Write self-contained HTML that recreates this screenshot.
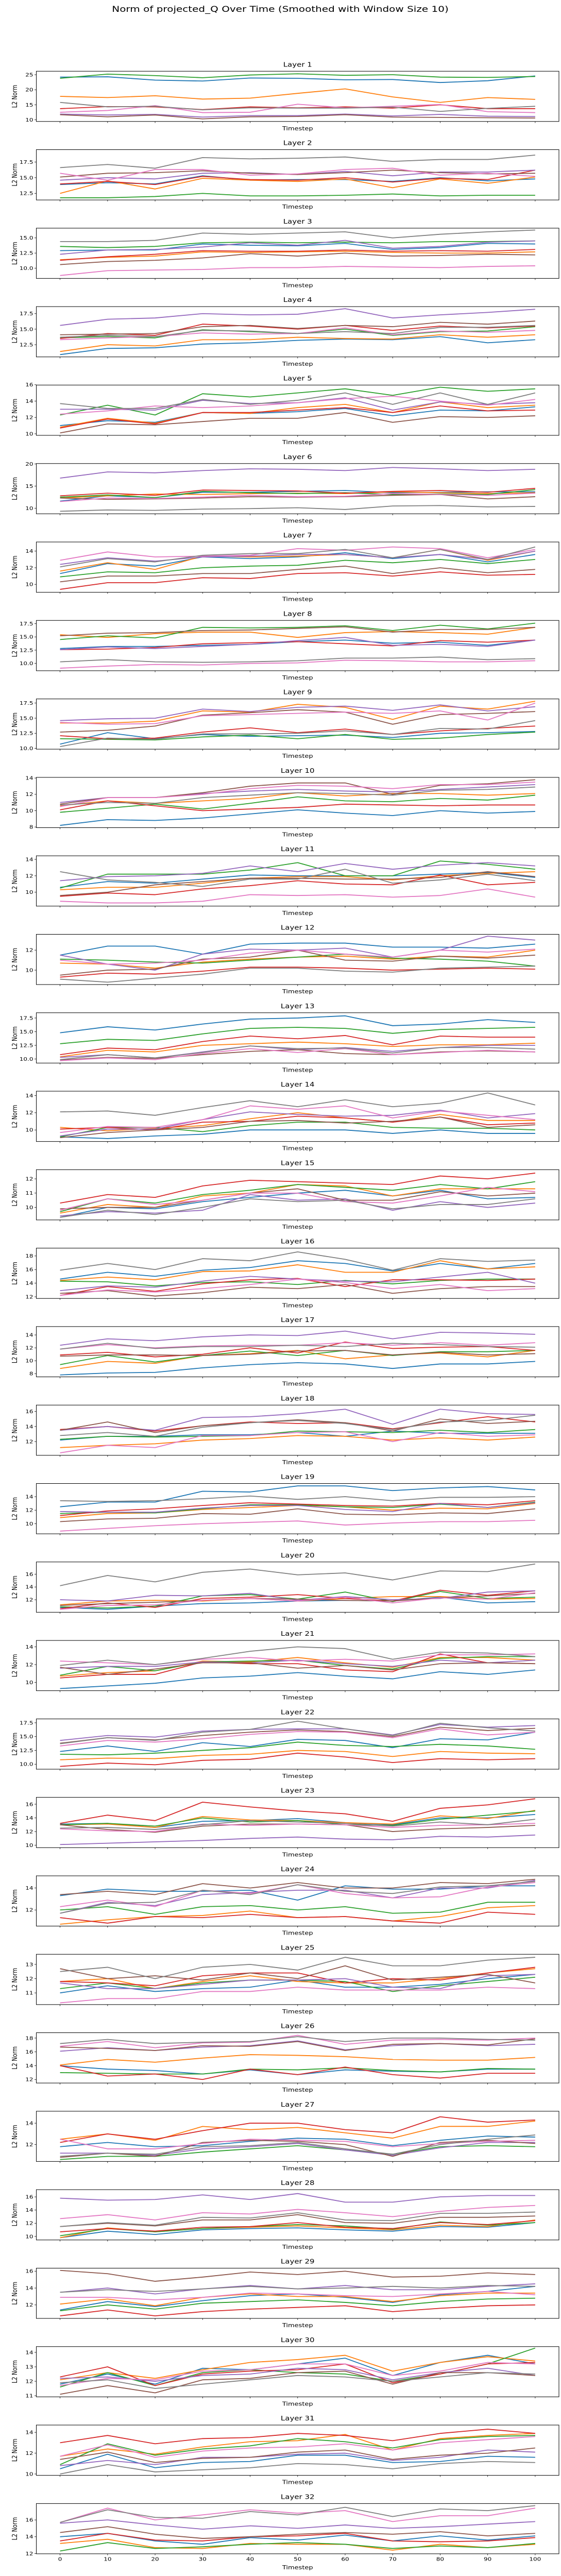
<!DOCTYPE html>
<html><head><meta charset="utf-8"><title>Norm of projected_Q Over Time</title>
<style>
html,body{margin:0;padding:0;background:#fff;overflow:hidden;width:100%;height:100%;}
svg{display:block;position:absolute;left:0;top:0;width:100vw;height:100vh;font-family:"DejaVu Sans","Liberation Sans",sans-serif;}
</style></head>
<body>
<svg id="fig" viewBox="0 0 1089 6149" preserveAspectRatio="none" xmlns="http://www.w3.org/2000/svg">
<rect width="1089" height="6149" fill="#fff"/>
<text x="544" y="28" font-size="20" text-anchor="middle">Norm of projected_Q Over Time (Smoothed with Window Size 10)</text>
</svg>
<script>
const timesteps=[0,10,20,30,40,50,60,70,80,90,100];
const xTickLabels=["0","10","20","30","40","50","60","70","80","90","100"];
const seriesColors=["#1f77b4","#ff7f0e","#2ca02c","#d62728","#9467bd","#8c564b","#e377c2","#7f7f7f"];
const yDomains=[[9.44,26.16],[11.45,19.46],[8.32,16.61],[10.54,18.63],[9.81,15.96],[8.73,20.1],[9.05,15.1],[8.62,18.1],[9.87,18.19],[7.92,14.08],[8.31,14.43],[8.56,13.58],[9.27,18.46],[8.66,14.5],[9.12,12.64],[11.76,19.15],[7.5,15.29],[10.17,16.85],[8.5,15.95],[10.04,17.91],[9.06,14.72],[9.1,18.2],[9.65,17.0],[10.53,15.11],[10.18,13.71],[11.49,18.77],[10.42,15.12],[9.47,17.09],[10.4,16.36],[10.92,14.4],[9.87,14.7],[11.97,17.95]];
const yTicks=[["10","15","20","25"],["12.5","15.0","17.5"],["10.0","12.5","15.0"],["12.5","15.0","17.5"],["10","12","14","16"],["10","15","20"],["10","12","14"],["10.0","12.5","15.0","17.5"],["10.0","12.5","15.0","17.5"],["8","10","12","14"],["10","12","14"],["10","12"],["10.0","12.5","15.0","17.5"],["10","12","14"],["10","11","12"],["12","14","16","18"],["8","10","12","14"],["12","14","16"],["10","12","14"],["12","14","16"],["10","12","14"],["10.0","12.5","15.0","17.5"],["10","12","14","16"],["12","14"],["11","12","13"],["12","14","16","18"],["12","14"],["10","12","14","16"],["12","14","16"],["11","12","13","14"],["10","12","14"],["12","14","16"]];
const L1=[[24.2,24.3,23.2,22.9,23.9,23.8,23.3,23.4,22.4,23.0,24.6],[17.8,17.4,18.0,16.9,17.2,18.8,20.3,17.6,15.8,17.4,16.8],[23.8,25.2,24.7,24.0,24.9,25.3,24.8,25.0,24.2,24.1,24.4],[13.7,14.4,14.3,13.4,14.3,14.0,14.3,13.9,15.0,13.7,13.7],[11.9,11.6,11.8,10.9,11.4,11.4,11.9,11.3,11.8,11.2,11.1],[11.7,11.0,11.6,10.3,11.0,11.1,11.7,10.9,10.8,10.7,10.6],[12.5,13.1,14.7,12.4,12.5,15.2,14.0,14.5,15.1,12.7,12.4],[15.8,14.3,14.5,13.3,14.0,13.9,13.9,14.2,12.8,13.8,14.5]];
const L2=[[13.9,14.2,14.0,15.3,14.6,14.7,14.7,14.4,15.0,14.5,14.8],[12.5,14.5,13.2,14.9,14.6,14.4,14.8,13.4,14.8,14.1,15.1],[11.8,11.8,12.0,12.5,12.1,12.1,12.2,12.4,12.1,12.2,12.2],[14.0,14.4,13.9,15.2,14.7,14.6,15.0,14.3,14.9,14.7,16.2],[14.6,15.0,14.8,15.7,15.8,15.5,16.0,15.3,15.9,15.9,16.2],[15.1,15.7,15.8,16.1,15.7,15.5,15.8,16.2,15.8,15.6,15.7],[15.7,14.6,16.3,16.3,15.4,15.6,16.3,16.5,15.4,15.7,15.2],[16.6,17.1,16.5,18.2,18.0,18.1,18.3,17.6,17.9,17.9,18.6]];
const L3=[[12.9,13.0,13.0,14.0,13.8,13.7,14.1,13.1,13.4,14.1,14.0],[11.4,11.8,12.0,12.7,12.6,12.7,12.8,12.6,12.5,12.5,12.7],[13.6,13.4,13.6,14.2,14.3,14.2,14.3,14.2,14.4,14.4,14.5],[11.3,11.9,12.3,12.9,12.8,12.8,13.0,12.8,12.9,12.8,13.1],[12.3,13.0,13.1,13.5,14.2,13.8,14.6,13.3,13.6,14.3,14.5],[10.6,11.1,11.3,11.7,12.4,12.0,12.5,12.0,12.1,12.3,12.2],[8.8,9.6,9.7,9.8,10.1,10.1,10.3,10.2,10.1,10.3,10.4],[14.4,14.4,14.6,15.8,15.6,15.8,16.0,15.0,15.6,16.0,16.3]];
const L4=[[10.9,11.9,12.0,12.6,12.8,13.2,13.4,13.3,13.8,12.8,13.3],[11.4,12.5,12.3,13.3,13.3,13.7,13.5,13.4,14.1,13.7,14.1],[13.6,13.8,13.6,14.9,14.6,14.3,15.0,14.0,14.6,14.7,15.4],[13.5,14.3,14.0,15.8,15.5,15.0,15.6,14.8,15.5,15.2,15.5],[15.6,16.6,16.8,17.5,17.3,17.4,18.3,16.8,17.3,17.7,18.2],[14.1,14.2,14.3,15.4,15.6,15.1,15.6,15.4,16.1,15.8,16.3],[13.3,13.6,13.8,14.4,14.2,14.3,15.2,14.1,14.7,14.5,14.8],[13.7,14.0,13.8,14.8,14.7,14.3,14.6,14.3,15.3,15.3,15.6]];
const L5=[[11.0,11.6,11.4,12.6,12.5,12.7,13.1,12.2,12.9,12.8,13.3],[10.8,11.9,11.3,12.6,12.5,13.2,13.6,12.6,13.9,13.2,13.5],[12.3,13.5,12.3,14.9,14.5,15.0,15.5,14.7,15.7,15.2,15.5],[10.7,11.8,11.2,12.6,12.6,12.9,13.2,12.6,13.4,12.8,12.9],[13.0,13.0,12.9,14.1,13.7,13.8,14.4,12.9,13.9,13.6,13.8],[10.1,11.2,11.1,11.5,11.9,11.9,12.6,11.4,12.1,12.0,12.2],[12.4,12.8,13.4,13.2,13.4,13.8,14.3,14.6,14.0,13.5,14.2],[13.7,13.1,13.1,14.2,13.6,14.1,15.0,13.6,15.0,13.6,15.0]];
const L6=[[11.6,12.8,12.4,13.6,13.6,13.8,14.0,13.5,13.6,13.7,13.7],[12.3,12.8,13.2,13.1,13.3,13.4,13.3,13.7,13.5,13.3,13.5],[12.5,13.0,12.4,13.8,13.5,13.3,13.5,13.1,13.2,13.1,14.2],[12.8,13.4,12.9,14.1,14.0,13.9,13.4,13.8,14.0,13.6,14.5],[16.8,18.2,18.0,18.5,18.9,18.8,18.5,19.2,18.9,18.5,18.8],[12.3,12.0,12.1,12.3,12.6,12.5,12.6,12.9,13.1,12.1,12.6],[11.5,12.3,12.2,12.5,12.9,12.6,12.7,13.3,13.1,12.9,13.4],[9.3,9.6,9.5,9.8,9.9,10.1,9.7,10.5,10.6,10.3,10.4]];
const L7=[[11.3,12.5,12.2,13.3,13.1,13.3,13.8,13.1,13.6,12.7,13.6],[11.6,12.6,11.8,13.4,13.3,13.4,13.6,13.2,14.2,12.9,14.0],[10.9,11.5,11.4,12.0,12.2,12.3,12.9,12.6,13.0,12.5,13.0],[9.4,10.2,10.2,10.8,10.7,11.3,11.4,11.0,11.5,11.1,11.2],[12.4,13.2,12.8,13.3,13.4,13.6,13.6,13.2,13.6,13.0,14.0],[10.3,11.0,11.0,11.3,11.3,11.8,12.2,11.3,12.0,11.4,11.8],[12.9,13.9,13.3,13.4,13.5,14.3,14.1,14.5,14.3,13.2,14.2],[12.1,13.1,12.7,13.5,13.7,13.7,14.2,13.2,14.2,13.0,14.5]];
const L8=[[12.8,13.2,13.2,13.4,13.6,14.1,14.4,13.8,14.0,13.4,14.4],[15.4,14.9,15.6,15.9,15.9,14.9,15.8,16.0,15.8,15.5,16.8],[14.5,15.2,14.8,16.8,16.7,16.8,17.1,16.2,17.2,16.5,17.6],[12.6,12.7,13.0,13.7,13.9,14.1,13.7,13.3,14.3,14.0,14.4],[12.6,13.1,12.8,13.2,13.6,14.3,14.9,13.4,13.6,13.2,14.4],[15.2,15.7,15.8,16.2,16.3,16.6,16.9,15.9,16.4,16.4,16.8],[9.1,9.5,9.8,9.7,10.0,10.1,10.6,10.5,10.3,10.3,10.5],[10.3,10.7,10.3,10.2,10.3,10.5,11.0,11.0,11.2,10.7,10.9]];
const L9=[[10.7,12.6,11.6,12.3,12.0,12.1,12.2,11.8,12.5,12.6,12.8],[14.2,14.2,14.5,16.2,16.0,17.3,16.8,14.8,17.0,16.5,17.8],[11.6,11.5,11.4,11.9,12.2,11.6,12.3,11.5,11.7,12.3,12.7],[12.1,11.6,11.7,12.7,13.4,12.6,13.2,12.3,12.9,13.3,13.7],[14.6,14.9,15.0,16.5,16.1,16.8,17.0,16.3,17.2,16.2,16.9],[12.7,13.0,13.7,15.5,15.9,16.4,16.0,14.0,15.6,15.8,16.1],[14.3,14.0,14.1,15.4,15.6,15.8,16.0,15.8,16.2,14.7,17.5],[10.3,11.7,11.5,12.4,12.4,12.5,12.9,12.3,13.3,13.2,14.6]];
const L10=[[8.2,8.9,8.8,9.1,9.6,10.1,9.7,9.4,10.0,9.7,9.9],[10.6,11.2,10.9,11.2,11.5,12.2,11.8,12.1,12.1,11.9,12.1],[9.8,10.3,10.8,10.2,10.9,11.7,11.2,11.1,11.5,11.3,11.9],[10.1,11.2,10.6,10.0,10.2,10.4,10.8,10.7,10.6,10.7,10.7],[11.0,11.6,11.6,12.1,12.4,12.6,12.4,12.3,12.6,12.9,13.2],[10.8,11.6,11.6,12.2,13.0,13.4,13.4,12.0,13.1,13.3,13.8],[10.5,11.6,11.6,12.0,12.7,13.1,13.0,12.7,13.2,13.2,13.5],[10.7,11.0,10.9,11.6,11.9,12.2,12.1,11.9,12.5,12.6,12.9]];
const L11=[[10.6,11.3,11.1,11.6,12.1,12.0,12.0,12.0,12.2,12.4,11.8],[10.3,10.6,10.6,11.1,11.7,11.9,11.9,11.5,12.0,12.3,12.5],[10.5,12.2,12.2,12.2,12.7,13.6,12.0,12.0,13.8,13.4,12.8],[9.5,9.9,9.7,10.4,10.8,11.4,11.0,10.9,12.1,10.9,11.2],[11.4,11.9,12.0,12.3,13.2,12.5,13.5,12.8,13.3,13.6,13.2],[9.6,10.0,10.9,11.3,11.7,11.7,11.6,11.6,11.8,12.5,11.9],[8.9,8.7,8.7,8.9,9.7,9.6,9.7,9.4,9.6,10.4,9.4],[12.5,11.5,11.2,10.7,11.6,11.6,12.8,11.1,11.5,12.2,11.4]];
const L12=[[11.5,12.4,12.4,11.6,12.6,12.7,12.7,12.3,12.3,12.2,12.6],[10.7,10.6,10.2,10.8,11.1,11.3,11.4,11.1,11.4,11.3,12.0],[11.1,11.0,10.8,10.7,11.0,11.3,11.6,11.2,11.1,10.9,10.4],[9.3,9.7,9.6,9.9,10.3,10.3,10.2,10.0,10.1,10.2,10.1],[11.5,10.6,10.0,11.6,12.1,12.0,12.2,11.3,12.0,13.4,13.0],[9.5,10.0,10.1,11.1,11.3,12.0,11.0,10.9,11.4,11.2,11.5],[11.0,10.6,10.7,11.0,11.7,12.0,11.6,11.3,12.0,11.8,12.1],[9.1,8.8,9.2,9.6,10.2,10.2,9.9,9.8,10.2,10.3,10.4]];
const L13=[[14.8,15.9,15.3,16.4,17.3,17.5,17.9,16.1,16.4,17.2,16.7],[10.4,11.6,11.3,12.5,12.8,13.1,12.8,12.3,12.6,12.6,12.9],[12.8,13.6,13.4,14.6,15.6,15.8,15.6,14.7,15.4,15.6,15.8],[10.8,12.0,11.7,13.2,14.2,13.7,14.3,12.6,14.2,14.0,14.0],[10.3,10.8,10.2,11.3,12.4,11.7,12.1,11.4,12.1,12.5,12.5],[9.8,10.3,10.1,10.8,11.4,11.7,11.0,10.8,11.3,11.5,11.3],[9.7,10.2,9.9,11.0,11.9,11.2,11.9,10.8,11.2,11.6,11.3],[9.9,10.8,10.2,11.2,12.4,11.9,12.0,11.1,12.1,12.1,11.8]];
const L14=[[9.2,9.0,9.3,9.5,10.0,10.0,10.0,9.6,10.0,9.6,9.6],[10.3,9.9,10.2,10.5,11.3,12.0,11.4,10.9,11.8,11.1,11.1],[9.2,10.3,10.3,9.8,10.5,10.9,10.9,10.3,10.2,10.2,10.0],[10.1,10.3,10.0,10.9,11.0,11.6,11.4,10.9,11.5,10.6,10.8],[9.3,10.1,10.1,11.2,12.1,11.8,11.6,11.7,12.3,11.4,11.9],[9.1,9.7,10.0,10.3,11.0,11.1,10.8,11.0,11.5,10.3,10.6],[9.7,10.4,10.3,11.2,12.8,12.4,12.8,11.4,12.2,11.7,11.2],[12.1,12.2,11.7,12.6,13.4,12.7,13.5,12.7,13.1,14.3,12.9]];
const L15=[[9.3,10.0,9.9,10.4,10.7,11.0,11.2,10.8,11.2,10.6,10.7],[9.6,10.2,10.0,10.8,11.0,11.6,11.5,10.8,11.3,11.3,11.3],[9.7,10.6,10.3,10.9,11.2,11.6,11.4,11.2,11.6,11.3,11.8],[10.3,10.9,10.7,11.5,11.9,11.8,11.7,11.6,12.2,12.0,12.4],[9.4,9.7,9.6,9.8,10.9,10.5,10.6,9.8,10.4,10.0,10.3],[9.9,10.0,10.0,10.5,11.0,11.3,10.5,10.5,11.1,10.8,11.0],[9.8,10.6,10.2,10.5,11.0,11.0,10.4,10.3,10.8,11.4,11.1],[9.3,9.8,9.5,10.0,10.6,10.4,10.5,9.9,10.2,10.2,10.6]];
const L16=[[14.6,15.6,15.0,15.9,16.3,17.3,16.9,15.8,16.9,16.1,16.9],[14.4,14.9,14.5,15.7,15.8,16.7,15.6,15.6,17.3,16.1,16.4],[14.3,14.2,13.6,14.1,14.2,13.8,14.4,13.9,14.4,14.6,14.6],[12.2,13.5,12.8,13.9,14.5,14.7,13.5,14.5,14.5,14.4,14.6],[12.9,13.6,13.4,14.3,15.0,14.6,14.3,14.2,14.9,15.6,14.0],[12.5,12.9,12.1,12.6,13.4,13.2,13.8,12.5,13.2,13.5,13.5],[12.2,13.0,12.7,13.2,13.8,14.6,14.1,13.2,13.8,12.9,13.2],[15.9,16.9,16.0,17.6,17.3,18.6,17.5,15.9,17.6,17.2,17.4]];
const L17=[[7.8,8.1,8.2,8.9,9.4,9.7,9.5,8.8,9.5,9.5,9.9],[8.8,9.9,9.6,10.8,11.1,11.6,10.3,10.9,11.2,10.6,11.6],[9.4,10.8,9.8,10.8,11.5,10.8,11.6,10.8,11.4,11.4,11.6],[10.9,11.3,10.6,11.0,12.0,11.2,12.9,11.9,12.1,12.2,11.6],[12.4,13.4,13.1,13.7,14.0,13.9,14.6,13.4,14.4,14.3,14.1],[10.7,10.9,10.9,10.8,11.0,11.5,11.6,10.9,11.3,10.9,11.1],[11.8,12.5,12.0,12.3,12.4,12.4,12.8,12.4,12.8,12.4,12.8],[11.8,12.7,11.9,12.2,12.2,12.4,12.2,12.7,12.5,12.2,12.1]];
const L18=[[12.2,12.7,12.7,12.9,12.9,13.2,12.7,13.4,13.1,13.1,13.1],[11.2,11.5,11.7,12.2,12.4,12.8,12.7,12.2,12.5,12.2,12.6],[12.3,12.7,12.6,12.7,12.8,13.4,13.3,13.2,13.5,13.2,13.6],[13.6,14.0,13.4,14.1,14.6,14.4,14.5,13.7,14.5,15.3,14.6],[13.5,14.0,13.5,15.2,15.3,15.7,16.3,14.3,16.3,15.7,15.6],[13.5,14.6,13.2,14.1,14.5,14.9,14.5,13.4,15.0,14.4,14.7],[10.5,11.5,11.2,12.8,12.8,13.2,13.3,12.0,13.2,12.7,12.9],[12.8,13.2,12.7,13.9,14.5,14.8,14.4,13.6,14.6,14.8,15.5]];
const L19=[[12.5,13.2,13.2,14.8,14.7,15.6,15.6,14.9,15.3,15.5,15.0],[10.9,11.5,11.6,12.1,12.4,12.7,12.5,12.0,12.3,12.2,13.0],[11.5,11.7,11.6,12.2,12.8,12.8,12.5,12.4,12.9,12.4,13.2],[11.2,11.9,12.2,12.7,13.1,12.9,12.7,12.6,13.0,12.8,13.4],[11.8,11.7,11.7,12.3,12.7,12.7,12.1,11.8,13.0,12.4,13.1],[10.3,10.7,10.8,11.5,11.4,12.2,11.4,11.3,11.6,11.5,12.2],[8.9,9.3,9.7,10.0,10.2,10.4,9.8,10.1,10.3,10.3,10.5],[13.4,13.3,13.4,13.7,14.1,13.6,14.0,13.4,13.9,13.9,14.0]];
const L20=[[10.8,10.5,11.0,11.4,11.5,11.8,11.9,11.8,12.4,11.5,11.7],[11.2,11.8,11.9,11.8,12.2,11.8,12.2,12.5,12.5,12.1,12.2],[10.9,10.7,11.0,12.6,12.8,12.1,13.2,11.7,13.3,12.2,12.4],[10.6,11.5,10.8,12.2,12.4,12.8,12.2,11.8,13.5,12.7,13.4],[12.0,11.8,12.7,12.6,13.0,11.9,12.5,12.0,12.2,13.2,13.4],[11.1,11.4,11.6,11.9,12.2,12.1,11.9,11.8,12.3,12.6,13.0],[10.5,11.1,11.2,11.9,12.2,11.8,12.4,11.5,12.3,12.1,13.1],[14.2,15.8,14.8,16.3,16.8,15.9,16.2,15.1,16.5,16.4,17.6]];
const L21=[[9.3,9.6,9.9,10.5,10.7,11.1,10.7,10.4,11.2,10.9,11.4],[10.7,11.1,11.3,12.4,12.3,12.8,12.2,11.7,12.8,12.8,12.5],[10.8,11.8,11.3,12.3,12.4,12.5,11.9,11.5,12.7,12.9,12.9],[10.5,10.9,10.9,12.3,12.1,12.1,11.4,11.2,13.2,12.2,12.1],[11.6,11.8,11.8,12.3,12.2,12.5,12.1,11.8,12.5,12.2,12.5],[11.7,10.9,11.5,12.2,12.2,11.6,11.9,11.4,12.1,12.2,12.1],[12.4,12.2,12.0,12.6,12.8,12.4,12.6,12.4,13.1,13.1,13.2],[11.9,12.5,12.0,12.7,13.5,14.0,13.8,12.6,13.4,13.3,12.9]];
const L22=[[12.3,13.3,12.3,13.9,13.2,14.5,14.3,13.0,14.6,14.4,15.8],[10.8,11.1,11.0,11.6,11.8,12.5,12.3,11.4,12.3,12.0,11.9],[11.8,11.7,12.0,12.5,13.0,14.0,13.4,13.2,13.6,13.3,12.7],[9.6,10.2,9.9,10.7,10.9,12.0,11.3,10.3,11.0,10.8,11.0],[14.3,15.2,14.9,16.0,16.3,16.4,16.4,15.3,17.2,16.7,17.0],[13.8,14.8,14.4,15.2,15.8,16.2,15.9,15.0,16.7,16.1,16.5],[13.3,14.3,14.0,14.6,15.4,15.9,15.8,14.8,16.4,15.3,15.8],[13.7,14.8,14.3,15.8,16.3,17.8,16.4,15.2,17.4,16.6,16.0]];
const L23=[[13.1,13.2,12.6,13.5,13.6,13.9,13.3,13.0,14.0,14.0,14.5],[13.0,13.1,12.6,14.2,13.7,13.6,13.3,13.1,14.3,13.9,15.1],[13.0,13.2,12.8,14.0,13.4,13.6,13.0,12.9,13.8,14.4,15.0],[13.2,14.4,13.6,16.3,15.6,15.0,14.6,13.5,15.4,15.9,16.8],[10.1,10.3,10.5,10.7,11.0,11.2,10.9,10.8,11.3,11.2,11.5],[13.0,12.3,11.9,12.8,13.1,13.1,13.0,12.0,12.4,12.6,12.9],[12.4,12.1,12.0,13.1,12.9,13.1,13.0,12.6,12.9,13.0,13.2],[12.5,12.6,12.3,13.0,13.6,13.4,13.2,12.8,13.4,13.0,13.8]];
const L24=[[13.3,13.9,13.7,13.7,13.8,12.9,14.2,13.9,13.9,14.2,14.2],[10.7,11.1,11.4,11.5,11.9,11.3,11.4,11.0,11.4,12.2,12.4],[12.0,12.3,11.6,12.3,12.4,12.0,12.3,11.7,11.8,12.7,12.7],[11.3,10.8,11.4,11.3,11.6,11.3,11.4,11.0,10.8,11.8,11.6],[11.7,12.7,12.4,13.4,13.6,13.8,13.8,13.1,14.0,14.0,14.7],[13.4,13.7,13.4,14.4,14.0,14.5,14.0,14.0,14.5,14.4,14.8],[12.3,12.9,12.3,13.8,13.5,14.3,13.5,13.1,13.2,14.1,14.5],[11.7,12.6,12.7,13.8,13.4,14.3,13.7,13.5,14.1,14.2,14.6]];
const L25=[[11.0,11.5,11.1,11.3,11.4,11.9,11.4,11.4,11.6,12.0,12.3],[11.8,12.0,11.3,11.8,12.2,11.8,11.7,11.7,12.0,12.4,12.7],[11.3,11.7,11.3,11.7,11.9,11.9,11.8,11.1,11.5,11.8,12.1],[11.8,11.7,11.5,12.2,12.4,12.4,11.7,12.0,11.9,12.4,12.8],[11.7,11.3,11.3,11.6,11.9,11.9,12.0,11.4,11.3,12.2,12.3],[12.7,12.0,12.2,11.9,12.4,12.0,12.9,11.9,12.1,12.3,11.7],[10.3,10.6,10.6,11.1,11.1,11.4,11.2,11.2,11.2,11.4,11.3],[12.5,12.8,12.0,12.8,13.0,12.6,13.5,12.9,12.9,13.3,13.5]];
const L26=[[14.0,13.5,13.3,12.8,13.4,12.7,13.4,13.2,13.1,13.5,13.5],[14.1,14.9,14.5,15.1,15.6,15.5,15.3,14.9,14.8,14.8,15.2],[13.0,12.9,12.8,12.8,13.5,13.4,13.7,13.3,13.1,13.6,13.5],[14.0,12.5,12.8,12.0,13.5,12.7,13.8,12.7,12.2,12.9,12.9],[16.1,16.6,16.2,16.7,16.9,17.6,16.3,16.9,17.2,16.9,17.1],[16.7,16.5,16.2,16.9,16.8,17.5,16.2,17.1,17.2,17.0,17.9],[16.8,17.5,16.6,17.3,17.4,18.4,17.1,17.7,17.8,17.7,18.0],[17.2,17.8,17.2,17.4,17.5,18.2,17.5,18.0,18.0,17.8,17.7]];
const L27=[[11.8,12.2,11.8,11.9,12.3,12.6,12.5,11.9,12.4,12.8,12.7],[12.5,13.0,12.4,13.7,13.4,13.6,13.1,12.6,13.7,13.7,14.2],[10.6,10.9,10.9,11.3,11.6,11.9,11.5,11.1,11.8,11.9,11.8],[12.2,13.0,12.5,13.3,14.0,14.0,13.4,13.1,14.6,14.1,14.3],[11.2,11.2,11.0,11.6,11.8,12.1,11.5,11.0,11.7,12.2,12.2],[10.8,11.2,10.9,12.2,12.4,12.3,12.0,10.9,12.2,12.4,12.1],[12.5,11.6,11.6,12.1,12.5,12.4,12.3,11.8,12.1,12.3,12.4],[10.9,11.2,11.1,11.8,11.9,12.2,11.6,11.1,12.0,12.5,12.9]];
const L28=[[9.8,10.8,10.3,11.0,11.2,11.3,11.0,10.8,11.5,11.4,12.1],[9.8,11.3,10.7,11.2,11.4,11.6,11.3,11.0,11.7,11.5,12.5],[10.1,11.2,10.7,11.2,11.5,11.8,11.6,11.1,12.2,11.7,12.1],[10.7,11.2,10.8,11.4,11.5,12.1,11.4,11.2,12.1,11.8,12.4],[15.8,15.5,15.6,16.3,15.6,16.5,15.2,15.2,16.0,16.2,16.2],[11.5,12.0,11.6,12.5,12.5,13.3,12.1,12.0,12.9,12.9,13.1],[12.7,13.3,12.5,13.6,13.4,14.1,13.6,13.0,13.8,14.4,14.7],[11.5,12.1,11.7,12.9,12.8,13.6,12.5,12.4,13.5,13.5,13.7]];
const L29=[[11.4,12.4,11.8,12.5,13.1,13.3,12.9,12.3,13.2,13.6,14.2],[12.1,12.7,11.9,12.9,13.3,13.0,13.0,12.4,13.1,13.4,13.4],[11.3,12.0,11.5,12.2,12.4,12.6,12.3,11.9,12.4,12.7,12.8],[10.7,11.4,10.7,11.2,11.5,11.7,11.9,11.2,11.6,11.9,12.0],[13.5,14.0,13.3,13.9,14.3,13.9,14.3,13.8,13.8,14.2,14.5],[16.1,15.7,14.8,15.3,15.9,15.6,16.0,15.3,15.4,15.8,15.6],[12.9,12.9,12.6,12.9,13.4,13.3,13.1,13.0,13.3,13.6,13.2],[13.5,13.8,13.6,13.9,14.2,13.9,14.0,14.2,14.0,14.3,14.2]];
const L30=[[11.8,12.5,11.8,12.9,12.8,13.2,13.6,12.4,13.3,13.8,13.2],[12.1,12.6,12.2,12.8,13.3,13.5,13.8,12.7,13.3,13.7,13.4],[11.6,12.6,11.7,12.6,12.8,12.6,12.5,12.0,12.5,13.2,14.3],[12.3,13.0,11.7,12.5,12.7,12.8,13.2,11.9,12.5,13.2,13.3],[12.2,12.3,12.0,12.4,12.5,12.9,12.8,12.1,12.6,12.9,12.4],[11.1,11.7,11.2,12.1,12.2,12.6,12.7,11.8,12.6,12.6,12.4],[11.7,12.2,12.1,12.7,12.8,13.2,13.2,12.4,12.7,13.3,13.2],[11.9,12.1,11.5,11.8,12.1,12.4,12.3,12.0,12.3,12.6,12.5]];
const L31=[[10.5,11.9,10.6,11.1,11.2,11.8,11.8,11.1,11.2,11.7,11.6],[11.7,12.4,11.9,12.6,13.1,13.2,13.8,12.3,13.4,13.7,13.9],[10.9,12.9,11.8,12.4,12.7,13.4,13.1,12.5,13.3,13.6,13.7],[13.0,13.7,12.9,13.4,13.5,13.9,13.7,13.2,13.9,14.3,13.9],[10.8,11.3,10.9,11.6,11.6,11.9,12.0,11.3,11.6,12.3,12.1],[11.4,12.1,11.1,11.5,11.6,12.1,12.3,11.4,11.8,12.0,12.5],[11.7,12.8,11.6,12.2,12.5,12.6,12.9,12.3,13.0,13.3,13.6],[10.0,10.9,10.2,10.4,10.6,11.0,10.9,10.5,11.0,11.2,11.1]];
const L32=[[14.0,14.4,13.5,13.1,13.9,13.6,14.2,13.5,14.1,13.6,14.1],[13.2,13.7,12.7,12.6,13.2,13.1,13.1,12.4,13.1,12.7,13.1],[12.3,13.3,12.6,12.8,13.1,13.3,13.1,12.6,12.9,12.7,13.2],[13.5,14.4,13.6,13.5,14.0,14.1,14.4,13.5,13.4,13.5,13.9],[15.6,16.0,15.4,14.9,15.3,15.0,15.4,15.0,15.2,15.5,15.8],[14.5,15.2,14.3,13.8,14.0,14.3,14.5,14.3,14.6,14.1,14.4],[15.7,17.4,16.0,16.6,17.2,16.8,17.1,15.8,16.5,16.5,17.4],[15.7,17.2,16.3,16.2,17.0,16.6,17.5,16.4,17.3,17.1,17.7]];
const layers=[L1,L2,L3,L4,L5,L6,L7,L8,L9,L10,L11,L12,L13,L14,L15,L16,L17,L18,L19,L20,L21,L22,L23,L24,L25,L26,L27,L28,L29,L30,L31,L32];

const NS="http://www.w3.org/2000/svg";
const svg=document.getElementById('fig');
const AX_L=70.5, AX_R=1085, AX_H=120, TOP0=170, PITCH=187.29;
function xScale(t){return AX_L+(t+5)/110*(AX_R-AX_L);}
function mk(tag,attrs,parent){const e=document.createElementNS(NS,tag);for(const k in attrs)e.setAttribute(k,attrs[k]);(parent||svg).appendChild(e);return e;}

layers.forEach(function(series,li){
  const top=TOP0+li*PITCH, bot=top+AX_H;
  const dom=yDomains[li];
  const yScale=function(v){return bot-(v-dom[0])/(dom[1]-dom[0])*AX_H;};
  const g=mk('g',{});
  
  
  const title=mk('text',{x:(AX_L+AX_R)/2,y:top-11,'font-size':15,'text-anchor':'middle'},g);
  
  
  title.textContent='Layer '+(li+1);
  const clipId='clip'+li;
  const cp=mk('clipPath',{id:clipId},g);
  mk('rect',{x:AX_L,y:top,width:AX_R-AX_L,height:AX_H},cp);
  const lines=mk('g',{'clip-path':'url(#'+clipId+')'},g);
  
  
  series.forEach(function(vals,si){
    const pts=vals.map(function(v,i){return xScale(timesteps[i]).toFixed(1)+','+yScale(v).toFixed(1);}).join(' ');
    const pl=mk('polyline',{points:pts,fill:'none',stroke:seriesColors[si],'stroke-width':1.8,'stroke-linejoin':'round','vector-effect':'non-scaling-stroke'},lines);
    
    
  });
  const frame=mk('rect',{x:AX_L,y:top,width:AX_R-AX_L,height:AX_H,fill:'none',stroke:'#000','stroke-width':1,'vector-effect':'non-scaling-stroke'},g);
  
  
  yTicks[li].forEach(function(lab){
    const y=yScale(parseFloat(lab));
    const tk=mk('line',{x1:AX_L-3.5,x2:AX_L,y1:y,y2:y,stroke:'#000','stroke-width':0.8,'vector-effect':'non-scaling-stroke'},g);
    
    
    const tl=mk('text',{x:AX_L-6,y:y+4.2,'font-size':12,'text-anchor':'end'},g);
    
    
    tl.textContent=lab;
  });
  timesteps.forEach(function(t,i){
    const x=xScale(t);
    const tk=mk('line',{x1:x,x2:x,y1:bot,y2:bot+3.5,stroke:'#000','stroke-width':0.8,'vector-effect':'non-scaling-stroke'},g);
    
    
    if(li===layers.length-1){
      const tl=mk('text',{x:x,y:bot+16.5,'font-size':12,'text-anchor':'middle'},g);
      
      
      tl.textContent=xTickLabels[i];
    }
  });
  const xl=mk('text',{x:(AX_L+AX_R)/2,y:(li===layers.length-1)?bot+37:bot+21,'font-size':13,'text-anchor':'middle'},g);
  
  
  xl.textContent='Timestep';
  const yc=(top+bot)/2;
  const yl=mk('text',{x:29,y:yc,'font-size':13,'text-anchor':'middle',transform:'rotate(-90 29 '+yc+')','dominant-baseline':'middle'},g);
  
  
  yl.textContent='L2 Norm';
});
</script>
</body></html>
